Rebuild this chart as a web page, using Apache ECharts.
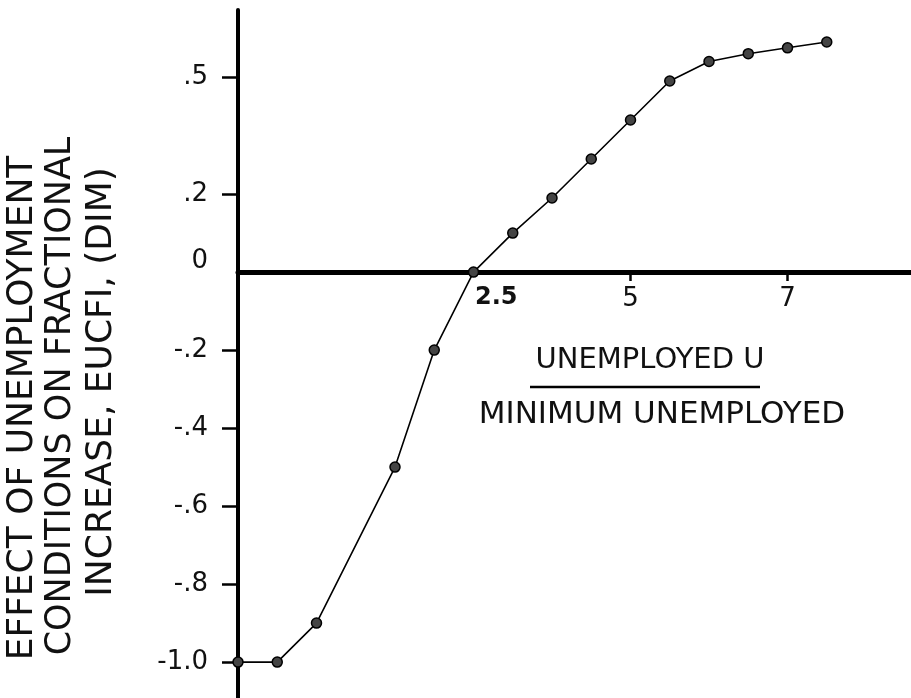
<!DOCTYPE html>
<html>
<head>
<meta charset="utf-8">
<script src="https://cdn.jsdelivr.net/npm/echarts@6/dist/echarts.min.js"></script>
<style>html,body{margin:0;padding:0;background:#fff;}#chart{width:911px;height:698px;}</style>
</head>
<body>
<div id="chart"></div>
<script>
// Ratio UNEMPLOYED U / MINIMUM UNEMPLOYED
const xValues = [0, 0.5, 1.0, 2.0, 2.5, 3.0, 3.5, 4.0, 4.5, 5.0, 5.5, 6.0, 6.5, 7.0, 7.5];
// EUCFI (dimensionless)
const eucfi = [-1.0, -1.0, -0.9, -0.5, -0.2, 0, 0.1, 0.19, 0.29, 0.39, 0.49, 0.54, 0.56, 0.575, 0.59];
const yTickValues = [0.5, 0.2, -0.2, -0.4, -0.6, -0.8, -1.0];
const yLabelValues = [0.5, 0.2, 0, -0.2, -0.4, -0.6, -0.8, -1.0];
const xTickValues = [5, 7];
const xLabelValues = [2.5, 5, 7];
const yTitleLines = ['EFFECT OF UNEMPLOYMENT', 'CONDITIONS ON FRACTIONAL', 'INCREASE, EUCFI, (DIM)'];
const xTitleTop = 'UNEMPLOYED U';
const xTitleBottom = 'MINIMUM UNEMPLOYED';

const FONT = '"DejaVu Sans", sans-serif';
const INK = '#111';

function yFmt(v) {
  if (Math.abs(v) < 1e-9) return '{z|0}';
  let s = Math.abs(v).toFixed(1);
  if (s.startsWith('0')) s = s.slice(1);
  return (v < 0 ? '-' : '') + s;
}
function xFmt(v) {
  if (Math.abs(v - 2.5) < 1e-9) return '{b|2.5}';
  return String(v);
}

const chart = echarts.init(document.getElementById('chart'), null, {renderer: 'canvas'});
chart.setOption({
  backgroundColor: '#fff',
  animation: false,
  grid: {left: 238, right: 0, top: 10, bottom: 0, containLabel: false, outerBoundsMode: 'none'},
  xAxis: {
    type: 'value', min: 0, max: 8.573, position: 'bottom', offset: -426,
    splitLine: {show: false},
    axisLine: {onZero: false, lineStyle: {color: '#000', width: 5}},
    axisTick: {show: true, inside: false, customValues: xTickValues, length: 9, lineStyle: {color: '#000', width: 2.5}},
    axisLabel: {
      show: true, inside: false, customValues: xLabelValues, formatter: xFmt, margin: 14,
      fontFamily: FONT, fontSize: 26, color: INK,
      rich: {b: {fontFamily: FONT, fontSize: 24, fontWeight: 'bold', color: INK, padding: [0, 0, 0, 124]}}
    }
  },
  yAxis: {
    type: 'value', min: -1.092, max: 0.672, position: 'left',
    splitLine: {show: false},
    axisLine: {onZero: false, lineStyle: {color: '#000', width: 4}},
    axisTick: {show: true, inside: false, customValues: yTickValues, length: 16, lineStyle: {color: '#000', width: 2.5}},
    axisLabel: {
      customValues: yLabelValues, formatter: yFmt, margin: 30,
      fontFamily: FONT, fontSize: 26, color: INK,
      rich: {z: {fontFamily: FONT, fontSize: 26, color: INK, padding: [0, 0, 22, 0]}}
    }
  },
  series: [{
    type: 'line',
    data: xValues.map((x, i) => [x, eucfi[i]]),
    lineStyle: {color: '#000', width: 1.6},
    symbol: 'circle', symbolSize: 10,
    itemStyle: {color: '#444', borderColor: '#000', borderWidth: 1.5},
    z: 5
  }],
  graphic: [
    {type: 'text', x: 23, y: 408, rotation: Math.PI / 2,
     style: {text: yTitleLines[0], font: '36px ' + FONT, fill: INK, align: 'center', verticalAlign: 'middle'}},
    {type: 'text', x: 61, y: 396, rotation: Math.PI / 2,
     style: {text: yTitleLines[1], font: '35px ' + FONT, fill: INK, align: 'center', verticalAlign: 'middle'}},
    {type: 'text', x: 102, y: 382, rotation: Math.PI / 2,
     style: {text: yTitleLines[2], font: '36px ' + FONT, fill: INK, align: 'center', verticalAlign: 'middle'}},
    {type: 'text', x: 650, y: 360,
     style: {text: xTitleTop, font: '29px ' + FONT, fill: INK, align: 'center', verticalAlign: 'middle'}},
    {type: 'line', shape: {x1: 530, y1: 387, x2: 760, y2: 387}, style: {stroke: '#000', lineWidth: 2.5}},
    {type: 'text', x: 662, y: 415,
     style: {text: xTitleBottom, font: '31px ' + FONT, fill: INK, align: 'center', verticalAlign: 'middle'}}
  ]
});
</script>
</body>
</html>
